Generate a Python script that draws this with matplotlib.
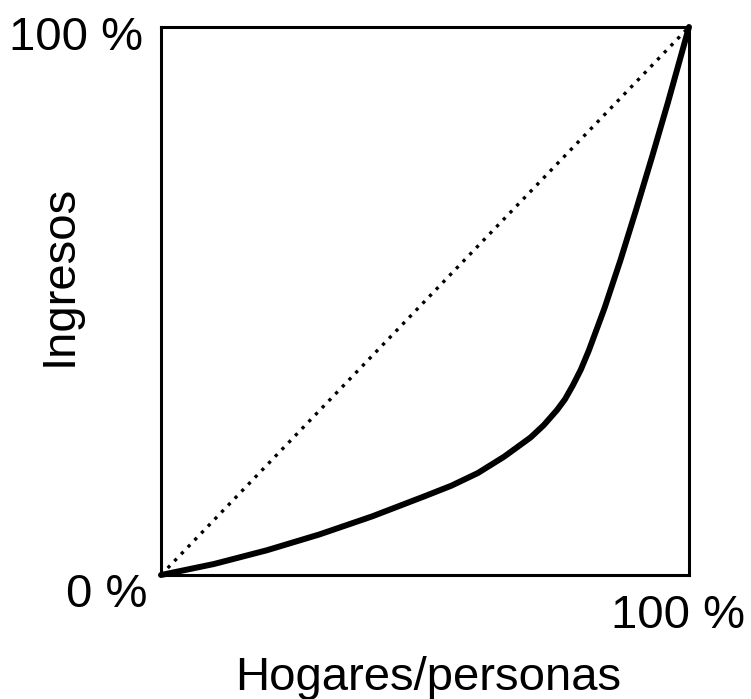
import matplotlib
matplotlib.use("Agg")
from matplotlib import pyplot as plt

# Lorenz curve (share of households vs share of income)
hogares = [0.0, 0.1, 0.2, 0.3, 0.4, 0.5, 0.55, 0.6, 0.65, 0.7, 0.725, 0.75,
           0.765, 0.78, 0.795, 0.81, 0.84, 0.87, 0.9, 0.93, 0.96, 1.0]
ingresos = [0.0, 0.020, 0.045, 0.074, 0.107, 0.144, 0.163, 0.186, 0.216,
            0.251, 0.2735, 0.301, 0.3205, 0.346, 0.3745, 0.409, 0.487,
            0.574, 0.667, 0.763, 0.862, 1.0]
igualdad = [0.0, 1.0]

labels = {"top": "100 %", "origin": "0 %", "right": "100 %"}
xlabel = "Hogares/personas"
ylabel = "Ingresos"

plt.rcParams['font.family'] = ['Liberation Sans', 'DejaVu Sans']

W, H = 751, 699
fig = plt.figure(figsize=(W / 100, H / 100), dpi=100)

left, right, top, bottom = 161, 689, 27, 575
ax = fig.add_axes([left / W, 1 - bottom / H, (right - left) / W, (bottom - top) / H])
ax.set_xlim(0, 1)
ax.set_ylim(0, 1)
ax.set_xticks([])
ax.set_yticks([])
for sp in ax.spines.values():
    sp.set_linewidth(2.2)
    sp.set_color("black")

ax.plot(igualdad, igualdad, color="black", lw=2.4, dashes=(1, 1.9),
        dash_capstyle="butt", clip_on=False)
ax.plot(hogares, ingresos, color="black", lw=4.3, solid_joinstyle="round",
        solid_capstyle="round", clip_on=False)


def px(x, y):
    return x / W, 1 - y / H


fs = 34
fig.text(*px(143, 50), labels["top"], ha="right", va="baseline", fontsize=fs)
fig.text(*px(147, 607), labels["origin"], ha="right", va="baseline", fontsize=fs)
fig.text(*px(745, 628), labels["right"], ha="right", va="baseline", fontsize=fs)
fig.text(*px(428, 690), xlabel, ha="center", va="baseline", fontsize=fs)
fig.text(*px(72, 275), ylabel, ha="center", va="baseline", rotation=90,
         rotation_mode="anchor", fontsize=fs)

fig.savefig("out.png", dpi=100)
